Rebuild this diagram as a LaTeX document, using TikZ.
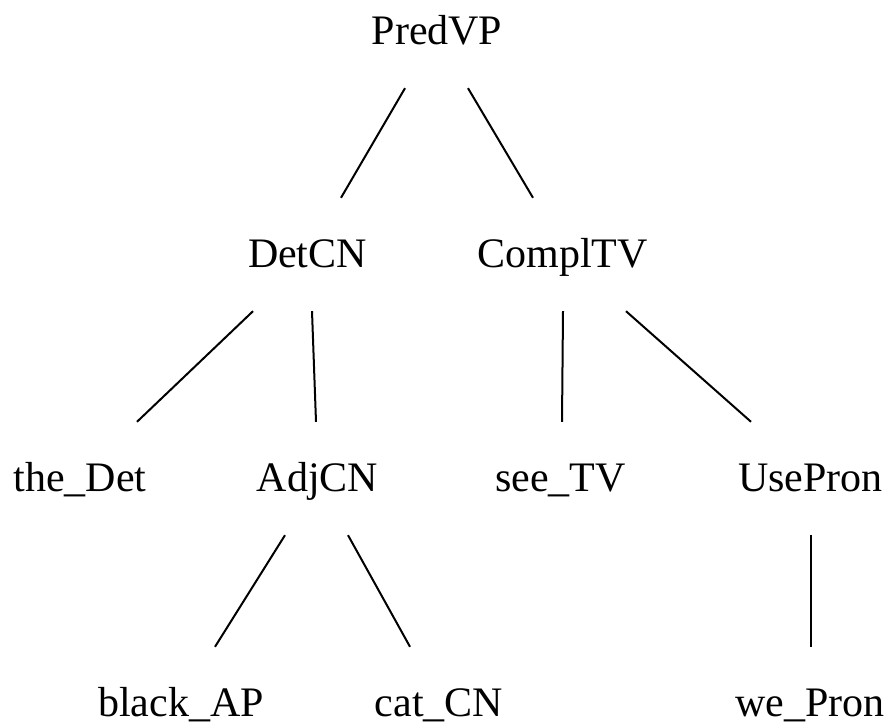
\documentclass[tikz,border=0pt]{standalone}
\usepackage{fontspec}
\setmainfont{Liberation Serif}
\begin{document}
\begin{tikzpicture}[x=1pt,y=1pt,
  lbl/.style={anchor=base,inner xsep=0pt,inner ysep=43pt,text height=27pt,text depth=0pt,
    font=\fontsize{42}{50}\selectfont},
  branch/.style={line width=2pt,black}]
\useasboundingbox (0,0) rectangle (891,727);
% level 1
\node[lbl] (pred) at (437,682) {PredVP};
% level 2
\node[lbl] (det) at (307.5,459) {DetCN};
\node[lbl] (compl) at (562.5,459) {ComplTV};
% level 3
\node[lbl] (the) at (80,235) {the\_Det};
\node[lbl] (adj) at (317.5,235) {AdjCN};
\node[lbl] (see) at (560.5,235) {see\_TV};
\node[lbl] (use) at (810.5,235) {UsePron};
% level 4
\node[lbl] (black) at (181,10) {black\_AP};
\node[lbl] (cat) at (439,10) {cat\_CN};
\node[lbl] (we) at (810,10) {we\_Pron};
% branches
\draw[branch] ([xshift=-32pt]pred.south) -- ([xshift=33.5pt]det.north);
\draw[branch] ([xshift=31pt]pred.south) -- ([xshift=-29.5pt]compl.north);
\draw[branch] ([xshift=-54.5pt]det.south) -- ([xshift=57pt]the.north);
\draw[branch] ([xshift=4.5pt]det.south) -- ([xshift=-1.5pt]adj.north);
\draw[branch] ([xshift=0.5pt]compl.south) -- ([xshift=1.5pt]see.north);
\draw[branch] ([xshift=63.5pt]compl.south) -- ([xshift=-59.5pt]use.north);
\draw[branch] ([xshift=-32.5pt]adj.south) -- ([xshift=34pt]black.north);
\draw[branch] ([xshift=30.5pt]adj.south) -- ([xshift=-29pt]cat.north);
\draw[branch] ([xshift=0.5pt]use.south) -- ([xshift=1pt]we.north);
\end{tikzpicture}
\end{document}
